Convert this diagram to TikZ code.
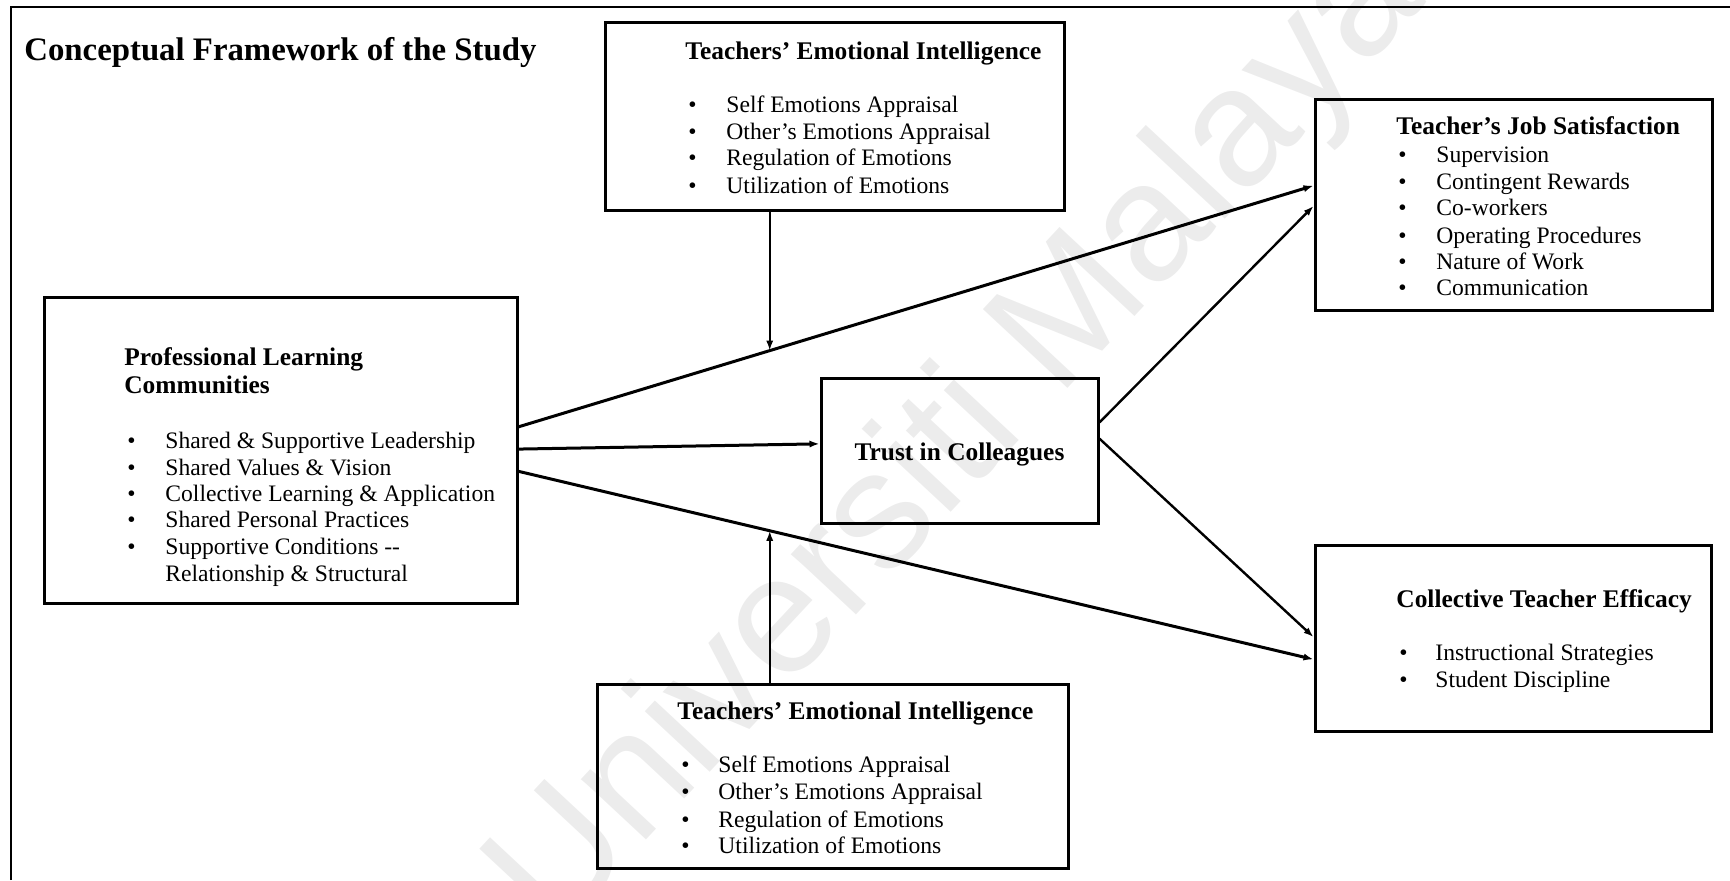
\documentclass[tikz,border=0pt]{standalone}
\usepackage{fontspec}
\setmainfont{Liberation Serif}
\newfontfamily\wmfont{Liberation Sans}
\usetikzlibrary{arrows.meta,fit,calc}
\definecolor{wmgray}{RGB}{236,236,236}

\tikzset{
  box/.style={draw, line width=1.5pt, inner sep=0pt, fill=none},
  body/.style={inner sep=0pt, anchor=base west, font=\fontsize{11.8}{13.4}\selectfont},
  head/.style={inner sep=0pt, anchor=base west, font=\bfseries\fontsize{12.7}{14}\selectfont},
  link/.style={line width=1.5pt, -{Latex[length=5pt,width=3.6pt]}},
  thinlink/.style={line width=1.2pt, -{Latex[length=5pt,width=3.6pt]}},
  frameline/.style={line width=1pt},
  wm/.style={inner sep=0pt, text=wmgray, font=\wmfont\fontsize{84}{84}\selectfont}
}

% bullet item: name, bullet x, text x, baseline y, text
\newcommand\bitem[5]{%
  \node[body] (#1-dot) at (#2,#4) {\textbullet};
  \node[body] (#1) at (#3,#4) {#5};}

\begin{document}
\begin{tikzpicture}[x=0.5pt,y=-0.5pt]
\useasboundingbox (0,0) rectangle (1730,880);

% watermark
\node[wm, rotate=47] (wmark) at (960,440) {Universiti Malaya};

% frame
\draw[frameline] (11,880) -- (11,7) -- (1730,7);

% title
\node[inner sep=0pt, anchor=base west, font=\bfseries\fontsize{16.4}{18}\selectfont] (title) at (24,60) {Conceptual Framework of the Study};

% boxes
\node[box, fit={(605,22) (1064,210)}] (teitop) {};
\node[box, fit={(1315,99) (1712,310)}] (js) {};
\node[box, fit={(44,297) (517,603)}] (plc) {};
\node[box, fit={(821,378) (1098,523)}] (trust) {};
\node[box, fit={(597,684) (1068,868)}] (teibot) {};
\node[box, fit={(1315,545) (1711,731)}] (cte) {};

% Teachers' Emotional Intelligence (top)
\node[head] (teitop-h) at (685,59) {Teachers’ Emotional Intelligence};
\bitem{tt1}{688}{726}{112}{Self Emotions Appraisal}
\bitem{tt2}{688}{726}{139}{Other’s Emotions Appraisal}
\bitem{tt3}{688}{726}{165}{Regulation of Emotions}
\bitem{tt4}{688}{726}{193}{Utilization of Emotions}

% Teacher's Job Satisfaction
\node[head] (js-h) at (1396,134) {Teacher’s Job Satisfaction};
\bitem{js1}{1398}{1436}{162}{Supervision}
\bitem{js2}{1398}{1436}{189}{Contingent Rewards}
\bitem{js3}{1398}{1436}{215}{Co-workers}
\bitem{js4}{1398}{1436}{243}{Operating Procedures}
\bitem{js5}{1398}{1436}{269}{Nature of Work}
\bitem{js6}{1398}{1436}{295}{Communication}

% Professional Learning Communities
\node[head] (plc-h1) at (124,365) {Professional Learning};
\node[head] (plc-h2) at (124,393) {Communities};
\bitem{pl1}{127}{165}{448}{Shared \& Supportive Leadership}
\bitem{pl2}{127}{165}{475}{Shared Values \& Vision}
\bitem{pl3}{127}{165}{501}{Collective Learning \& Application}
\bitem{pl4}{127}{165}{527}{Shared Personal Practices}
\bitem{pl5}{127}{165}{554}{Supportive Conditions -{}-}
\node[body] (pl5b) at (165,581) {Relationship \& Structural};

% Trust in Colleagues
\node[inner sep=0pt, anchor=base, font=\bfseries\fontsize{12.7}{14}\selectfont] (trust-t) at (959.5,460) {Trust in Colleagues};

% Teachers' Emotional Intelligence (bottom)
\node[head] (teibot-h) at (677,719) {Teachers’ Emotional Intelligence};
\bitem{tb1}{681}{718}{772}{Self Emotions Appraisal}
\bitem{tb2}{681}{718}{799}{Other’s Emotions Appraisal}
\bitem{tb3}{681}{718}{827}{Regulation of Emotions}
\bitem{tb4}{681}{718}{853}{Utilization of Emotions}

% Collective Teacher Efficacy
\node[head] (cte-h) at (1396,607) {Collective Teacher Efficacy};
\bitem{ce1}{1399}{1435}{660}{Instructional Strategies}
\bitem{ce2}{1399}{1435}{687}{Student Discipline}

% connectors
\draw[link] ($(plc.north east)!0.425!(plc.south east)$) -- coordinate[pos=0.316] (m1) ($(js.north west)!0.412!(js.south west)$);
\draw[link] ($(plc.north east)!0.497!(plc.south east)$) -- ($(trust.north west)!0.455!(trust.south west)$);
\draw[link] ($(plc.north east)!0.569!(plc.south east)$) -- coordinate[pos=0.316] (m2) ($(cte.north west)!0.613!(cte.south west)$);
\draw[thinlink] ($(trust.north east)!0.31!(trust.south east)$) -- ($(js.north west)!0.507!(js.south west)$);
\draw[thinlink] ($(trust.north east)!0.42!(trust.south east)$) -- ($(cte.north west)!0.495!(cte.south west)$);
\draw[thinlink] (m1 |- teitop.south) -- (m1);
\draw[thinlink] (m2 |- teibot.north) -- (m2);
\end{tikzpicture}
\end{document}
